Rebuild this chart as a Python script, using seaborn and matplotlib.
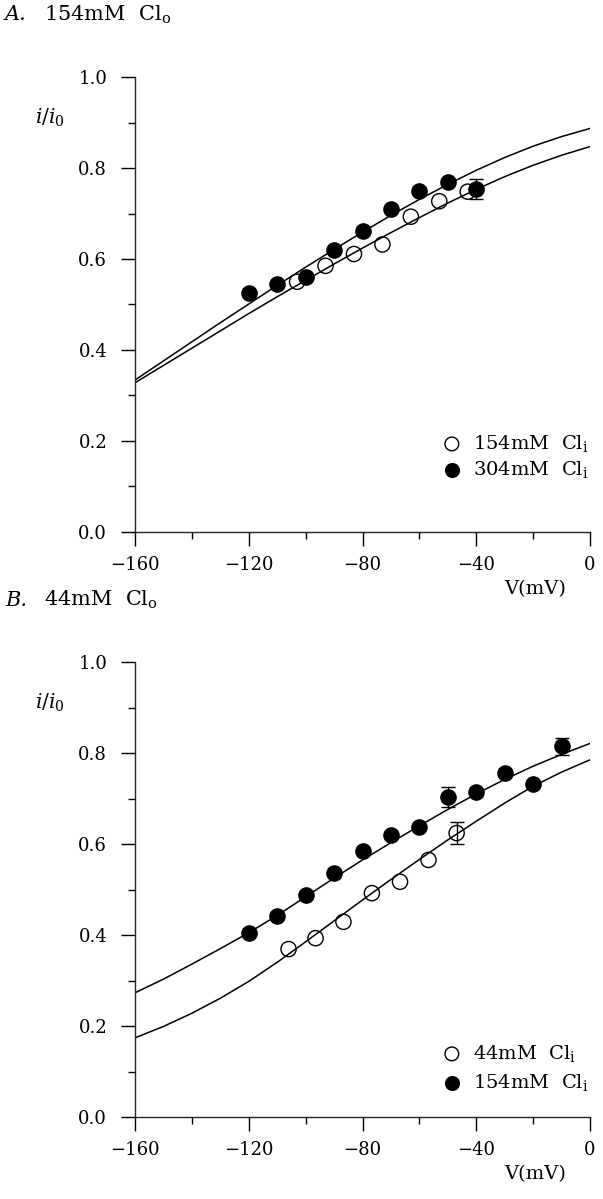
import numpy as np
import matplotlib
matplotlib.use('Agg')
import matplotlib.pyplot as plt
import seaborn as sns
from matplotlib.ticker import FixedLocator

# ---- panel A: 154mM Cl_o ----
a_open_v = [-103, -93, -83, -73, -63, -53, -43]
a_open_y = [0.550, 0.585, 0.611, 0.632, 0.693, 0.727, 0.748]
a_fill_v = [-120, -110, -100, -90, -80, -70, -60, -50, -40]
a_fill_y = [0.525, 0.545, 0.560, 0.620, 0.662, 0.710, 0.749, 0.769, 0.753]
a_errs = [(-40, 0.753, 0.022)]

fit_v = [-160, -150, -140, -130, -120, -110, -100, -90, -80,
         -70, -60, -50, -40, -30, -20, -10, 0]
a_fit_hi = [0.334, 0.376, 0.418, 0.460, 0.501, 0.542, 0.582, 0.621, 0.659,
            0.696, 0.731, 0.764, 0.795, 0.823, 0.848, 0.869, 0.887]
a_fit_lo = [0.328, 0.366, 0.404, 0.442, 0.480, 0.517, 0.553, 0.589, 0.624,
            0.658, 0.691, 0.723, 0.753, 0.781, 0.806, 0.828, 0.847]

# ---- panel B: 44mM Cl_o ----
b_open_v = [-106, -96.5, -86.7, -76.7, -66.8, -56.8, -46.9]
b_open_y = [0.369, 0.393, 0.429, 0.492, 0.517, 0.565, 0.624]
b_fill_v = [-120, -110, -100, -90, -80, -70, -60, -50, -40, -30, -20, -10]
b_fill_y = [0.404, 0.442, 0.489, 0.537, 0.585, 0.619, 0.638, 0.704, 0.714,
            0.757, 0.732, 0.815]
b_errs = [(-46.9, 0.624, 0.025), (-50, 0.704, 0.022), (-10, 0.815, 0.019)]

b_fit_hi = [0.273, 0.303, 0.336, 0.370, 0.405, 0.443, 0.484, 0.525, 0.565,
            0.603, 0.640, 0.676, 0.710, 0.742, 0.771, 0.797, 0.821]
b_fit_lo = [0.174, 0.199, 0.228, 0.261, 0.298, 0.340, 0.385, 0.431, 0.477,
            0.522, 0.566, 0.609, 0.650, 0.690, 0.727, 0.758, 0.785]

x_ticks = [-160, -120, -80, -40, 0]
x_minor = [-140, -100, -60, -20]
x_labels = ['\u2212160', '\u2212120', '\u221280', '\u221240', '0']
y_ticks = [0.0, 0.2, 0.4, 0.6, 0.8, 1.0]
y_minor = [0.1, 0.3, 0.5, 0.7, 0.9]
y_labels = ['0.0', '0.2', '0.4', '0.6', '0.8', '1.0']

panels = [
    dict(tag='A.', title=r'154mM  Cl$_\mathregular{o}$',
         open_v=a_open_v, open_y=a_open_y, fill_v=a_fill_v, fill_y=a_fill_y,
         errs=a_errs, fit_hi=a_fit_hi, fit_lo=a_fit_lo,
         labels=[r'154mM  Cl$_\mathregular{i}$', r'304mM  Cl$_\mathregular{i}$'],
         leg_y=0.166, spacing=0.25),
    dict(tag='B.', title=r'44mM  Cl$_\mathregular{o}$',
         open_v=b_open_v, open_y=b_open_y, fill_v=b_fill_v, fill_y=b_fill_y,
         errs=b_errs, fit_hi=b_fit_hi, fit_lo=b_fit_lo,
         labels=[r'44mM  Cl$_\mathregular{i}$', r'154mM  Cl$_\mathregular{i}$'],
         leg_y=0.108, spacing=0.4),
]

sns.set_style('ticks')
plt.rcParams['font.family'] = ['DejaVu Serif']
plt.rcParams['mathtext.fontset'] = 'dejavuserif'
plt.rcParams['axes.linewidth'] = 1.0
plt.rcParams['text.color'] = 'black'

fig = plt.figure(figsize=(6.03, 11.99), dpi=100)
W, H = 603, 1199
tops = [77, 662]

for p, top in zip(panels, tops):
    ax = fig.add_axes([135 / W, 1 - (top + 455) / H, 455 / W, 455 / H])

    sns.lineplot(x=fit_v, y=p['fit_hi'], ax=ax, color='black', lw=1.1)
    sns.lineplot(x=fit_v, y=p['fit_lo'], ax=ax, color='black', lw=1.1)

    for v, y, e in p['errs']:
        ax.errorbar([v], [y], yerr=[e], fmt='none', ecolor='black',
                    elinewidth=1.0, capsize=5, capthick=1.0, zorder=2)

    sns.scatterplot(x=p['open_v'], y=p['open_y'], ax=ax, marker='o', s=120,
                    facecolors='none', edgecolor='black', linewidth=1.0,
                    label=p['labels'][0], zorder=3)
    sns.scatterplot(x=p['fill_v'], y=p['fill_y'], ax=ax, marker='o', s=120,
                    color='black', edgecolor='black', linewidth=1.0,
                    label=p['labels'][1], zorder=4)

    ax.set_xlim(-160, 0)
    ax.set_ylim(0, 1.0)
    ax.xaxis.set_major_locator(FixedLocator(x_ticks))
    ax.xaxis.set_minor_locator(FixedLocator(x_minor))
    ax.yaxis.set_major_locator(FixedLocator(y_ticks))
    ax.yaxis.set_minor_locator(FixedLocator(y_minor))
    ax.set_xticklabels(x_labels)
    ax.set_yticklabels(y_labels)
    ax.tick_params(which='major', direction='out', length=10, width=1.0,
                   labelsize=13, colors='black')
    ax.tick_params(which='minor', direction='out', length=5, width=1.0,
                   colors='black')
    ax.tick_params(axis='x', which='major', pad=7)
    ax.tick_params(axis='y', which='major', pad=10)
    sns.despine(ax=ax)
    ax.set_xlabel('')
    ax.set_ylabel('')

    ax.text(-0.22, 0.91, r'$i/i_0$', transform=ax.transAxes, fontsize=14.5,
            ha='left', va='center')
    ax.text(0.88, -0.125, 'V(mV)', transform=ax.transAxes, fontsize=14,
            ha='center', va='center')
    fig.text(5 / W, 1 - (top - 62) / H, p['tag'], fontsize=15,
             style='italic', ha='left', va='center')
    fig.text(44 / W, 1 - (top - 62) / H, p['title'], fontsize=15,
             ha='left', va='center')

    ax.legend(loc='center left', bbox_to_anchor=(0.675, p['leg_y']),
              frameon=False, fontsize=14, handlelength=1.0,
              handletextpad=0.6, labelspacing=p['spacing'], borderpad=0,
              borderaxespad=0, markerscale=0.9)

fig.savefig('out.png', dpi=100)
